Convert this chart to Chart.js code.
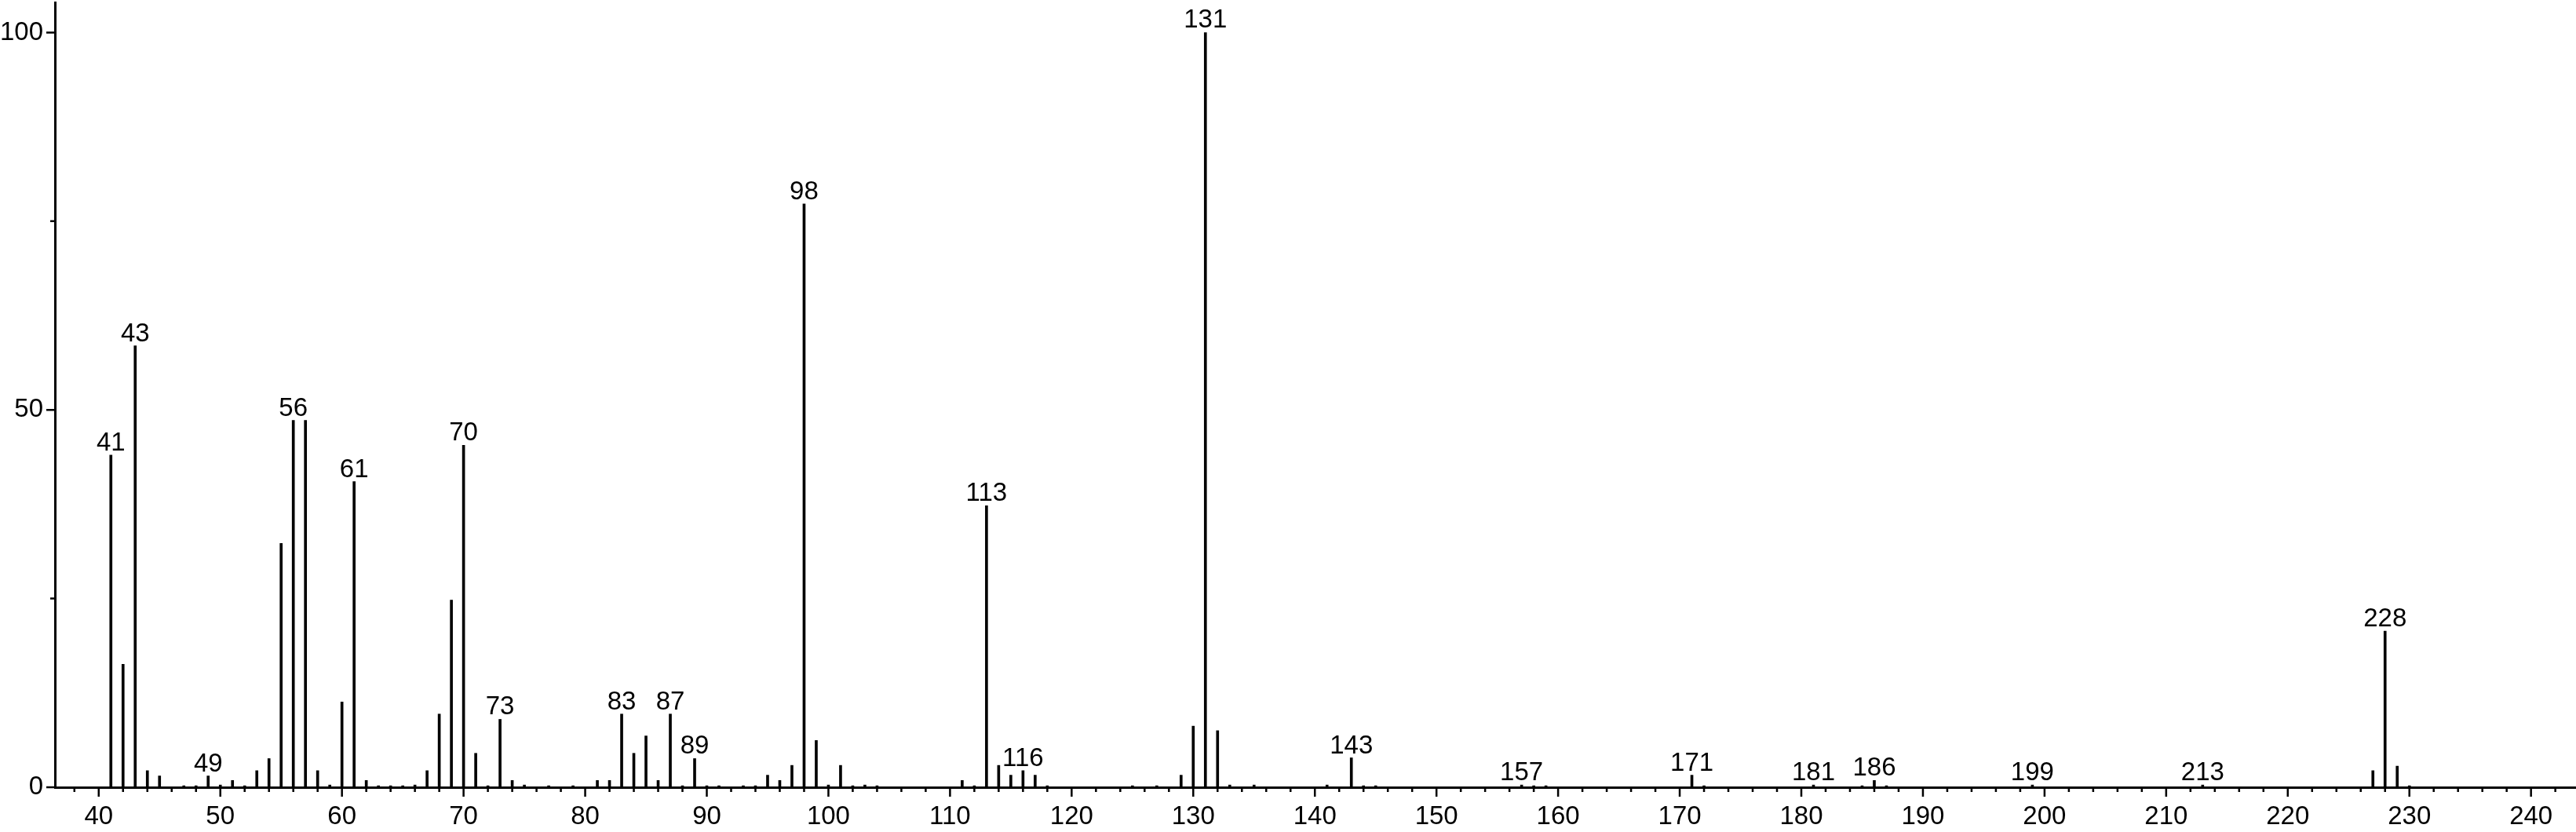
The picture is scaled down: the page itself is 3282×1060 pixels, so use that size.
<!DOCTYPE html>
<html>
<head>
<meta charset="utf-8">
<script src="https://cdn.jsdelivr.net/npm/chart.js@4.4.0/dist/chart.umd.min.js"></script>
<style>
  html, body { margin: 0; padding: 0; background: #fff; }
  canvas { display: block; }
</style>
</head>
<body>
<canvas id="spectrum" width="3282" height="1060"></canvas>
<script>
// m/z values and relative intensities
const masses = [
  41, 42, 43, 44, 45, 47, 48, 49, 50, 51, 52, 53, 54, 55, 56, 57, 58, 59, 60, 61,
  62, 63, 64, 65, 66, 67, 68, 69, 70, 71, 72, 73, 74, 75, 77, 79, 81, 82, 83, 84,
  85, 86, 87, 88, 89, 90, 91, 93, 94, 95, 96, 97, 98, 99, 100, 101, 102, 103, 104, 111,
  112, 113, 114, 115, 116, 117, 118, 125, 127, 129, 130, 131, 132, 133, 135, 141, 143, 144, 145, 157,
  158, 159, 171, 172, 181, 185, 186, 187, 199, 213, 227, 228, 229, 230
];
const intensities = [
  44.0, 16.3, 58.5, 2.2, 1.5, 0.2, 0.2, 1.5, 0.3, 0.9, 0.2, 2.2, 3.8, 32.3, 48.6, 48.6, 2.2, 0.3, 11.3, 40.5,
  0.9, 0.2, 0.2, 0.2, 0.3, 2.2, 9.7, 24.8, 45.3, 4.5, 0.2, 9.0, 0.9, 0.3, 0.2, 0.2, 0.9, 0.9, 9.7, 4.5,
  6.8, 0.9, 9.7, 0.2, 3.8, 0.2, 0.2, 0.2, 0.2, 1.6, 0.9, 2.9, 77.3, 6.2, 0.3, 2.9, 0.2, 0.3, 0.2, 0.9,
  0.2, 37.3, 2.9, 1.6, 2.2, 1.6, 0.2, 0.2, 0.2, 1.6, 8.1, 100, 7.5, 0.3, 0.3, 0.3, 3.9, 0.2, 0.2, 0.3,
  0.2, 0.2, 1.6, 0.2, 0.3, 0.2, 0.9, 0.2, 0.3, 0.3, 2.2, 20.7, 2.8, 0.2
];
// peaks that carry an m/z annotation
const labelledPeaks = [41, 43, 49, 56, 61, 70, 73, 83, 87, 89, 98, 113, 116, 131, 143, 157, 171, 181, 186, 199, 213, 228];
const xTickLabels = [40, 50, 60, 70, 80, 90, 100, 110, 120, 130, 140, 150, 160, 170, 180, 190, 200, 210, 220, 230, 240];
const yTickLabels = [0, 50, 100];

const FONT = "'Liberation Sans', Arial, sans-serif";
const xMin = 36.4, xMax = 243.7;

const axisTicks = {
  id: "axisTicks",
  afterDraw(chart) {
    const { ctx, scales: { x, y } } = chart;
    const x0 = x.getPixelForValue(xMin);
    const y0 = y.getPixelForValue(0);
    ctx.save();
    ctx.strokeStyle = "#000";
    ctx.lineWidth = 2.5;
    ctx.beginPath();
    for (let v = 38; v <= 242; v += 2) {
      const px = x.getPixelForValue(v);
      const len = v % 10 === 0 ? 12 : 6;
      ctx.moveTo(px, y0);
      ctx.lineTo(px, y0 + len);
    }
    for (let v = 0; v <= 100; v += 25) {
      const py = y.getPixelForValue(v);
      const len = v % 50 === 0 ? 11 : 6;
      ctx.moveTo(x0, py);
      ctx.lineTo(x0 - len, py);
    }
    ctx.stroke();
    ctx.restore();
  }
};

const peakLabels = {
  id: "peakLabels",
  afterDatasetsDraw(chart) {
    const { ctx, scales: { x, y } } = chart;
    const base = y.getPixelForValue(0);
    ctx.save();
    ctx.fillStyle = "#000";
    ctx.font = "33px " + FONT;
    ctx.textAlign = "center";
    ctx.textBaseline = "alphabetic";
    labelledPeaks.forEach((m) => {
      const i = masses.indexOf(m);
      if (i < 0) return;
      const px = x.getPixelForValue(m);
      const py = Math.min(y.getPixelForValue(intensities[i]) - 6, base - 9);
      ctx.fillText(String(m), px, py);
    });
    ctx.restore();
  }
};

new Chart(document.getElementById("spectrum"), {
  type: "bar",
  data: {
    datasets: [{
      data: masses.map((m, i) => ({ x: m, y: intensities[i] })),
      backgroundColor: "#000",
      borderWidth: 0,
      barThickness: 3
    }]
  },
  options: {
    responsive: false,
    animation: false,
    devicePixelRatio: 1,
    layout: { padding: { top: 3, right: 0, left: 0, bottom: 0 } },
    plugins: { legend: { display: false }, tooltip: { enabled: false } },
    scales: {
      x: {
        type: "linear",
        offset: false,
        min: xMin,
        max: xMax,
        afterBuildTicks: (s) => { s.ticks = xTickLabels.map((v) => ({ value: v })); },
        afterFit: (s) => { s.height = 57; s.paddingLeft = 0; s.paddingRight = 0; },
        grid: { display: false, drawTicks: false, offset: false },
        border: { display: true, color: "#000", width: 3 },
        ticks: {
          autoSkip: false,
          maxRotation: 0,
          padding: 18,
          color: "#000",
          font: { family: FONT, size: 33 },
          callback: (v) => String(v)
        }
      },
      y: {
        min: 0,
        max: 104,
        afterBuildTicks: (s) => { s.ticks = yTickLabels.map((v) => ({ value: v })); },
        afterFit: (s) => { s.width = 70; s.paddingTop = 0; s.paddingBottom = 0; },
        grid: { display: false, drawTicks: false },
        border: { display: true, color: "#000", width: 3 },
        ticks: {
          autoSkip: false,
          padding: 15,
          color: "#000",
          font: { family: FONT, size: 33 },
          callback: (v) => String(v)
        }
      }
    }
  },
  plugins: [axisTicks, peakLabels]
});
</script>
</body>
</html>
